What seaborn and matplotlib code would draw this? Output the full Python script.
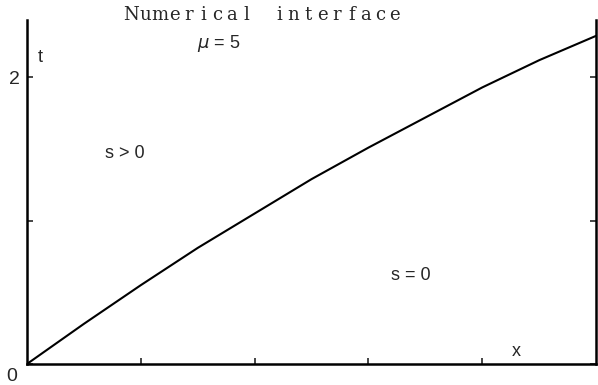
import matplotlib
matplotlib.use('Agg')
import matplotlib.pyplot as plt
import seaborn as sns
import pandas as pd

# interface position
x_vals = [0, 0.5, 1.0, 1.5, 2.0, 2.5, 3.0, 3.5, 4.0, 4.5, 5.0]
t_vals = [0, 0.28, 0.55, 0.81, 1.05, 1.29, 1.51, 1.72, 1.93, 2.12, 2.29]
ytick_labels = ['', '', '2']
title_words = ['Numerical', 'interface']

sns.set_style('white')
plt.rcParams['font.family'] = ['Liberation Sans', 'DejaVu Sans']

df = pd.DataFrame({'x': x_vals, 't': t_vals})

fig = plt.figure(figsize=(5.98, 3.85), dpi=100)
ax = fig.add_axes([0.045, 0.0545, 0.952, 0.8935])
sns.lineplot(data=df, x='x', y='t', color='black', linewidth=1.5, ax=ax)

ax.set_xlim(0, 5)
ax.set_ylim(0, 2.4)
ax.set_xticks([1, 2, 3, 4])
ax.set_xticklabels([])
ax.set_yticks([0, 1, 2])
ax.set_yticklabels(ytick_labels, fontsize=14)
ax.tick_params(direction='in', length=4, width=1.2, right=True, bottom=True, left=True, pad=5)
ax.set_xlabel('')
ax.set_ylabel('')

ax.spines['top'].set_visible(False)
for side in ['left', 'bottom', 'right']:
    ax.spines[side].set_color('black')
    ax.spines[side].set_linewidth(1.8)

ax.text(-0.026, -0.035, '0', transform=ax.transAxes, fontsize=14, ha='center', va='center')
ax.text(0.023, 0.89, 't', transform=ax.transAxes, fontsize=13, ha='center', va='center')
ax.text(0.86, 0.035, 'x', transform=ax.transAxes, fontsize=13, ha='center', va='center')

# title: widely spaced serif letters, one per cell like the old plotter
pitch = 14.4
word_gap = 33
cx = 131
for word in title_words:
    for ch in word:
        fig.text(cx / 598, 1 - 15 / 385, ch, family=['DejaVu Serif'], fontsize=13,
                 ha='center', va='center')
        cx += pitch
    cx += word_gap - pitch

fig.text(219 / 598, 1 - 43 / 385, r'$\mu$ = 5', fontsize=13, ha='center', va='center')
fig.text(125 / 598, 1 - 153 / 385, 's > 0', fontsize=13, ha='center', va='center')
fig.text(411 / 598, 1 - 276 / 385, 's = 0', fontsize=13, ha='center', va='center')

fig.savefig('out.png', dpi=100)
